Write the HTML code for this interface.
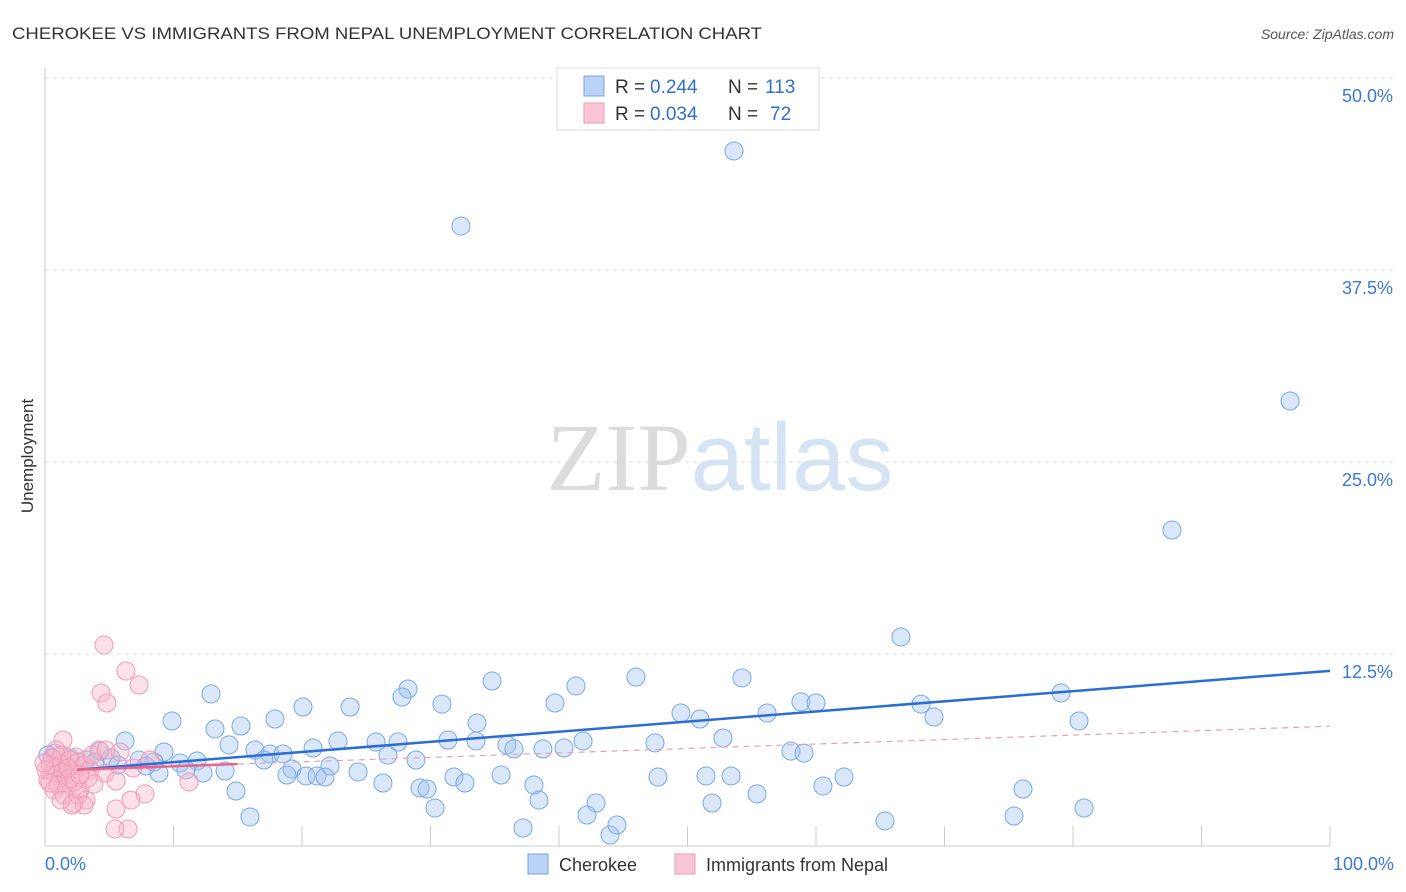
<!DOCTYPE html>
<html><head><meta charset="utf-8"><style>
body{margin:0;background:#fff;font-family:"Liberation Sans",sans-serif}
svg{display:block}
</style></head><body>
<svg id="chart" width="1406" height="892" xmlns="http://www.w3.org/2000/svg">
<text x="12" y="39" font-size="17" fill="#333" textLength="750" lengthAdjust="spacingAndGlyphs">CHEROKEE VS IMMIGRANTS FROM NEPAL UNEMPLOYMENT CORRELATION CHART</text>
<text x="1394" y="39" font-size="14" fill="#555" font-style="italic" text-anchor="end">Source: ZipAtlas.com</text>
<text transform="translate(33,456) rotate(-90)" font-size="17" fill="#333" text-anchor="middle">Unemployment</text>
<text x="720" y="490" font-size="96" text-anchor="middle"><tspan fill="#dcdcdc" font-family="Liberation Serif">ZIP</tspan><tspan fill="#d5e3f5">atlas</tspan></text>
<g id="grid"></g><g id="marks"></g>
<g>
<rect x="557" y="68" width="262" height="62" fill="#fff" stroke="#ddd"/>
<rect x="584" y="76" width="20" height="20" fill="#b7d2f5" stroke="#7aa6e0"/>
<rect x="584" y="103" width="20" height="20" fill="#fac6d6" stroke="#ee9ab4"/>
<text x="615" y="93" font-size="19" fill="#333">R =</text>
<text x="650" y="93" font-size="19" fill="#2f6fd0">0.244</text>
<text x="728" y="93" font-size="19" fill="#333">N =</text>
<text x="765" y="93" font-size="19" fill="#2f6fd0">113</text>
<text x="615" y="120" font-size="19" fill="#333">R =</text>
<text x="650" y="120" font-size="19" fill="#2f6fd0">0.034</text>
<text x="728" y="120" font-size="19" fill="#333">N =</text>
<text x="770" y="120" font-size="19" fill="#2f6fd0">72</text>
</g>
<g>
<rect x="528" y="854" width="20" height="20" fill="#b7d2f5" stroke="#7aa6e0"/>
<text x="559" y="871" font-size="18" fill="#333">Cherokee</text>
<rect x="675" y="854" width="20" height="20" fill="#fac6d6" stroke="#ee9ab4"/>
<text x="706" y="871" font-size="18" fill="#333">Immigrants from Nepal</text>
</g>
</svg>
<script>
const yTicks=[12.5,25,37.5,50];
const yTickLabels=["12.5%","25.0%","37.5%","50.0%"];
const xTickLabels=["0.0%","100.0%"];
const bluePx=[[461,226],[734,151],[1290,401],[1172,530],[901,637],[1061,693],[1079,721],[921,704],[934,717],[801,702],[816,703],[767,713],[742,678],[700,719],[681,713],[636,677],[576,686],[555,703],[492,681],[408,689],[402,697],[442,704],[477,723],[350,707],[303,707],[275,719],[211,694],[172,721],[215,729],[241,726],[125,741],[229,745],[164,752],[100,751],[255,750],[270,754],[283,754],[313,748],[338,741],[376,742],[398,742],[448,740],[476,741],[507,745],[514,749],[543,749],[564,748],[583,741],[655,743],[723,738],[791,751],[804,753],[111,758],[139,760],[154,762],[180,763],[197,761],[118,765],[146,766],[159,773],[186,770],[203,773],[225,771],[264,760],[292,769],[330,766],[358,772],[388,755],[416,760],[287,775],[306,776],[317,776],[325,777],[383,783],[454,777],[465,783],[501,775],[534,785],[539,800],[596,803],[420,788],[427,789],[236,791],[658,777],[706,776],[731,776],[757,794],[712,803],[823,786],[844,777],[1023,789],[1084,808],[1014,816],[885,821],[250,817],[435,808],[523,828],[587,815],[610,835],[617,825],[55,753],[70,758],[86,760],[95,762],[62,765],[48,755]];
const pinkPx=[[104,645],[126,671],[139,685],[101,693],[107,703],[63,740],[99,750],[76,757],[105,773],[133,768],[116,781],[189,782],[80,790],[145,794],[131,800],[86,800],[74,803],[116,809],[128,829],[115,829],[58,760],[66,765],[72,770],[52,772],[48,780],[60,778],[68,783],[56,750],[62,755],[70,760],[78,762],[84,765],[90,770],[54,790],[64,795],[78,795],[84,805],[50,765],[56,768],[62,772],[66,775],[70,778],[74,782],[58,785],[52,758],[46,770],[88,778],[94,784],[92,755],[150,760],[44,763],[50,783],[68,768],[80,775],[61,800],[72,805],[106,750],[120,752]];
const r1=v=>Math.round(v*100)/100;
const blueX=bluePx.map(p=>r1((p[0]-45)/12.85)), blueY=bluePx.map(p=>r1((846-p[1])/15.36));
const pinkX=pinkPx.map(p=>r1((p[0]-45)/12.85)), pinkY=pinkPx.map(p=>r1((846-p[1])/15.36));
const blueTrend=[4.8,11.4], pinkTrend=[4.9,7.8];
const X=v=>45+v*12.85, Y=v=>846-v*15.36;
const NS="http://www.w3.org/2000/svg";
function mk(t,a,parent){const e=document.createElementNS(NS,t);for(const k in a)e.setAttribute(k,a[k]);parent.appendChild(e);return e;}
const grid=document.getElementById('grid'), marks=document.getElementById('marks');
yTicks.forEach((t,i)=>{
 const l=mk('line',{x1:45,x2:1394,y1:Y(t),y2:Y(t),stroke:'#ddd','stroke-dasharray':'4 4'},grid);
 
 
 const tx=mk('text',{x:1393,y:Y(t)+24,'font-size':18,fill:'#3b78d8','text-anchor':'end'},grid);
 tx.textContent=yTickLabels[i];
 
 
});
const ax=mk('line',{x1:45,x2:45,y1:68,y2:846,stroke:'#ccc'},grid);


const bx=mk('line',{x1:45,x2:1330,y1:846,y2:846,stroke:'#ccc'},grid);


for(let i=1;i<=10;i++){const t=mk('line',{x1:X(i*10),x2:X(i*10),y1:826,y2:846,stroke:'#ccc'},grid);
 
 }
[[0,'start',45],[1,'end',1394]].forEach(([i,a,x])=>{const t=mk('text',{x:x,y:870,'font-size':18,fill:'#3b78d8','text-anchor':a},grid);t.textContent=xTickLabels[i];
 
 });
blueX.forEach((x,i)=>{const c=mk('circle',{cx:X(x),cy:Y(blueY[i]),r:9,fill:'rgba(160,196,240,0.4)',stroke:'#7aa8e4','stroke-width':1},marks);
 
 });
pinkX.forEach((x,i)=>{const c=mk('circle',{cx:X(x),cy:Y(pinkY[i]),r:9,fill:'rgba(248,180,200,0.4)',stroke:'#f09ab6','stroke-width':1},marks);
 
 });
const bt=mk('line',{x1:X(2.5),y1:Y(blueTrend[0]+(blueTrend[1]-blueTrend[0])*0.025),x2:X(100),y2:Y(blueTrend[1]),stroke:'#2a6dd4','stroke-width':2.5},marks);


const py=v=>pinkTrend[0]+(pinkTrend[1]-pinkTrend[0])*v/100;
const pt=mk('line',{x1:X(2.5),y1:Y(py(2.5)),x2:X(15),y2:Y(py(15)),stroke:'#e8648c','stroke-width':2.5},marks);


const pd=mk('line',{x1:X(15),y1:Y(py(15)),x2:X(100),y2:Y(py(100)),stroke:'#e8a0b6','stroke-width':1.2,'stroke-dasharray':'6 5'},marks);


</script>
</body></html>
